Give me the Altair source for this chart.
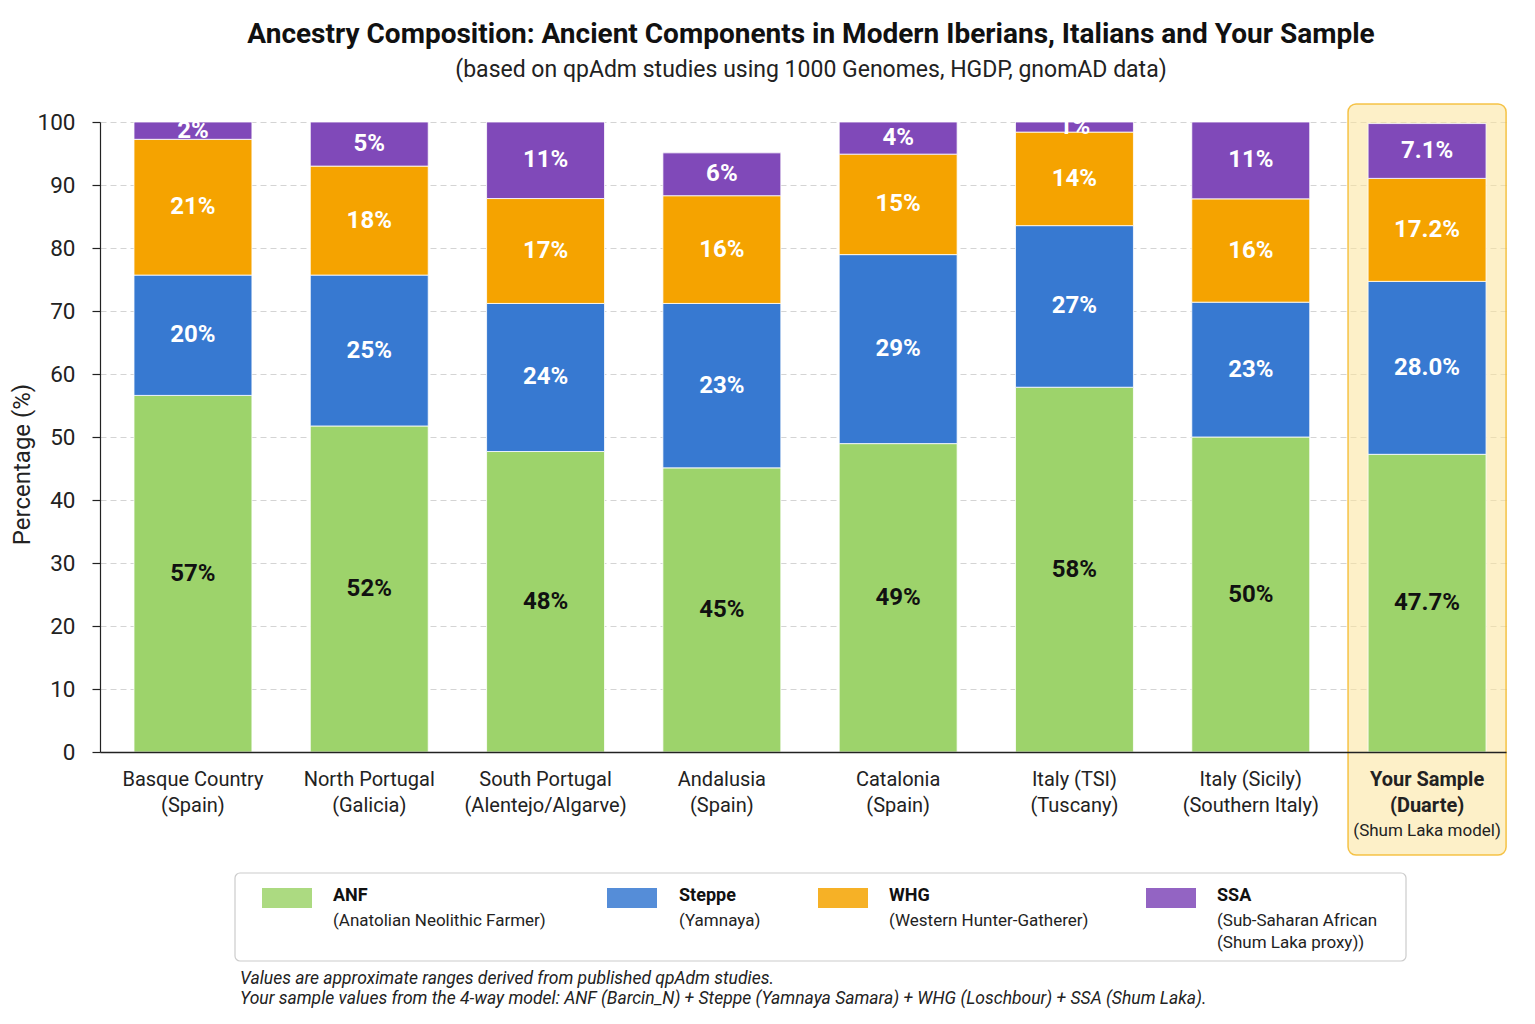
import altair as alt
import pandas as pd

# ---------------- data ----------------
regions_line1 = ["Basque Country", "North Portugal", "South Portugal", "Andalusia",
                 "Catalonia", "Italy (TSI)", "Italy (Sicily)", "Your Sample"]
regions_line2 = ["(Spain)", "(Galicia)", "(Alentejo/Algarve)", "(Spain)",
                 "(Spain)", "(Tuscany)", "(Southern Italy)", "(Duarte)"]
sample_note = "(Shum Laka model)"

components = ["ANF", "Steppe", "WHG", "SSA"]
component_desc = [["(Anatolian Neolithic Farmer)"], ["(Yamnaya)"],
                  ["(Western Hunter-Gatherer)"], ["(Sub-Saharan African", "(Shum Laka proxy))"]]
colors = ["#9dd36b", "#3779d1", "#f5a300", "#8049b9"]

# segment heights as drawn (percent)
anf = [56.6, 51.75, 47.7, 45.1, 48.95, 57.9, 50.0, 47.25]
steppe = [19.1, 23.95, 23.5, 26.1, 30.0, 25.65, 21.4, 27.45]
whg = [21.55, 17.3, 16.65, 17.1, 15.95, 14.85, 16.4, 16.35]
ssa = [2.75, 7.0, 12.15, 6.8, 5.1, 1.6, 12.2, 8.7]

# values printed on the segments
anf_lbl = [57, 52, 48, 45, 49, 58, 50, 47.7]
steppe_lbl = [20, 25, 24, 23, 29, 27, 23, 28.0]
whg_lbl = [21, 18, 17, 16, 15, 14, 16, 17.2]
ssa_lbl = [2, 5, 11, 6, 4, 1, 11, 7.1]
is_sample = [False] * 7 + [True]

title = "Ancestry Composition: Ancient Components in Modern Iberians, Italians and Your Sample"
subtitle = "(based on qpAdm studies using 1000 Genomes, HGDP, gnomAD data)"
footnotes = ["Values are approximate ranges derived from published qpAdm studies.",
             "Your sample values from the 4-way model: ANF (Barcin_N) + Steppe (Yamnaya Samara) + WHG (Loschbour) + SSA (Shum Laka)."]

# ---------------- build table ----------------
order = [a + "\n" + b for a, b in zip(regions_line1, regions_line2)]
heights = [anf, steppe, whg, ssa]
labels = [anf_lbl, steppe_lbl, whg_lbl, ssa_lbl]
rows = []
for i, reg in enumerate(order):
    base = 0.0
    for j, comp in enumerate(components):
        h = heights[j][i]
        v = labels[j][i]
        txt = f"{v:.1f}%" if is_sample[i] else f"{v:.0f}%"
        rows.append({"region": reg, "comp": comp, "y0": base, "y1": base + h,
                     "mid": base + h / 2, "lbl": txt,
                     "tc": "#111111" if comp == "ANF" else "#ffffff"})
        base += h
df = pd.DataFrame(rows)

FONT = "Roboto"
x_scale = alt.Scale(domain=order, paddingInner=0.331, paddingOuter=0.153, align=0.63)
x_axis = alt.Axis(title=None, labelExpr="split(datum.label, '\\n')", labelFontSize=20,
                  labelColor="#222222", labelPadding=17, labelLineHeight=26, ticks=False,
                  domainColor="#222222", domainWidth=1.5, labelAngle=0, labelLimit=400,
                  labelOverlap=False, labelBaseline="top", zindex=1,
                  labelFontWeight=alt.condition("indexof(datum.value, 'Your Sample') == 0",
                                                alt.value("bold"), alt.value("normal")))
x_enc = alt.X("region:N", scale=x_scale, axis=x_axis)

y_scale = alt.Scale(domain=[0, 100], nice=False, zero=True)
y_axis = alt.Axis(title="Percentage (%)", values=list(range(0, 101, 10)), grid=True,
                  gridDash=[6, 4], gridColor="#d4d4d4", gridWidth=1,
                  labelFontSize=22.5, labelColor="#222222", labelPadding=17,
                  tickSize=8, tickColor="#222222", tickWidth=1.2,
                  domainColor="#222222", domainWidth=1.2,
                  titleFontSize=24, titleFontWeight="normal", titleColor="#222222",
                  titleAngle=-90, titleX=-78, titleY=342, titleAlign="center",
                  titleBaseline="middle")

one = pd.DataFrame({"k": [0]})

highlight = alt.Chart(pd.DataFrame({"region": [order[-1]]})).mark_bar(
    width=alt.RelativeBandSize(1.34), cornerRadius=8, fill="#fbe39b", fillOpacity=0.55,
    stroke="#f3b92a", strokeOpacity=0.85, strokeWidth=1.5, clip=False
).encode(x=x_enc, y=alt.value(-18), y2=alt.value(733))

bars = alt.Chart(df).mark_bar(stroke="white", strokeWidth=0.8).encode(
    x=x_enc,
    y=alt.Y("y0:Q", scale=y_scale, axis=y_axis),
    y2="y1:Q",
    color=alt.Color("comp:N", scale=alt.Scale(domain=components, range=colors), legend=None),
)

seg_labels = alt.Chart(df).mark_text(fontSize=24, fontWeight="bold", baseline="middle",
                                     align="center").encode(
    x=x_enc,
    y=alt.Y("mid:Q", scale=y_scale, axis=y_axis),
    text="lbl:N",
    color=alt.Color("tc:N", scale=None),
)

note = alt.Chart(pd.DataFrame({"region": [order[-1]], "t": [sample_note]})).mark_text(
    fontSize=17, baseline="middle", align="center", color="#222222"
).encode(x=x_enc, y=alt.value(709), text="t:N")

layers = [highlight, bars, seg_labels, note]

# legend frame
layers.append(alt.Chart(one).mark_rect(fill="white", stroke="#cccccc", strokeWidth=1.2,
                                       cornerRadius=5).encode(
    x=alt.value(135), x2=alt.value(1306), y=alt.value(751), y2=alt.value(839)))

swatch_x = [162, 507, 718, 1046]
text_x = [233, 579, 789, 1117]
for j, comp in enumerate(components):
    layers.append(alt.Chart(one).mark_rect(color=colors[j], opacity=0.85).encode(
        x=alt.value(swatch_x[j]), x2=alt.value(swatch_x[j] + 50),
        y=alt.value(766), y2=alt.value(786)))
    layers.append(alt.Chart(one).mark_text(text=comp, fontSize=18, fontWeight="bold",
                                           align="left", baseline="middle", color="#111111").encode(
        x=alt.value(text_x[j]), y=alt.value(774)))
    layers.append(alt.Chart(one).mark_text(text=component_desc[j], fontSize=17, lineHeight=22,
                                           align="left", baseline="top", color="#222222").encode(
        x=alt.value(text_x[j]), y=alt.value(791)))

layers.append(alt.Chart(one).mark_text(text=footnotes, fontSize=17.5, fontStyle="italic",
                                       lineHeight=20, align="left", baseline="top",
                                       color="#222222").encode(
    x=alt.value(140), y=alt.value(848)))

chart = alt.layer(*layers).properties(
    width=1406, height=630,
    padding={"left": 100, "top": 122, "right": 29, "bottom": 272},
    autosize=alt.AutoSizeParams(type="none"),
    title=alt.Title(title, subtitle=subtitle, fontSize=28, fontWeight="bold", color="#111111",
                    subtitleFontSize=23, subtitleColor="#222222", subtitlePadding=10,
                    anchor="middle", offset=21, dx=8, font=FONT, subtitleFont=FONT),
).configure(font=FONT).configure_view(stroke=None)

chart.save("out.html", embed_options={"renderer": "svg", "actions": False})
